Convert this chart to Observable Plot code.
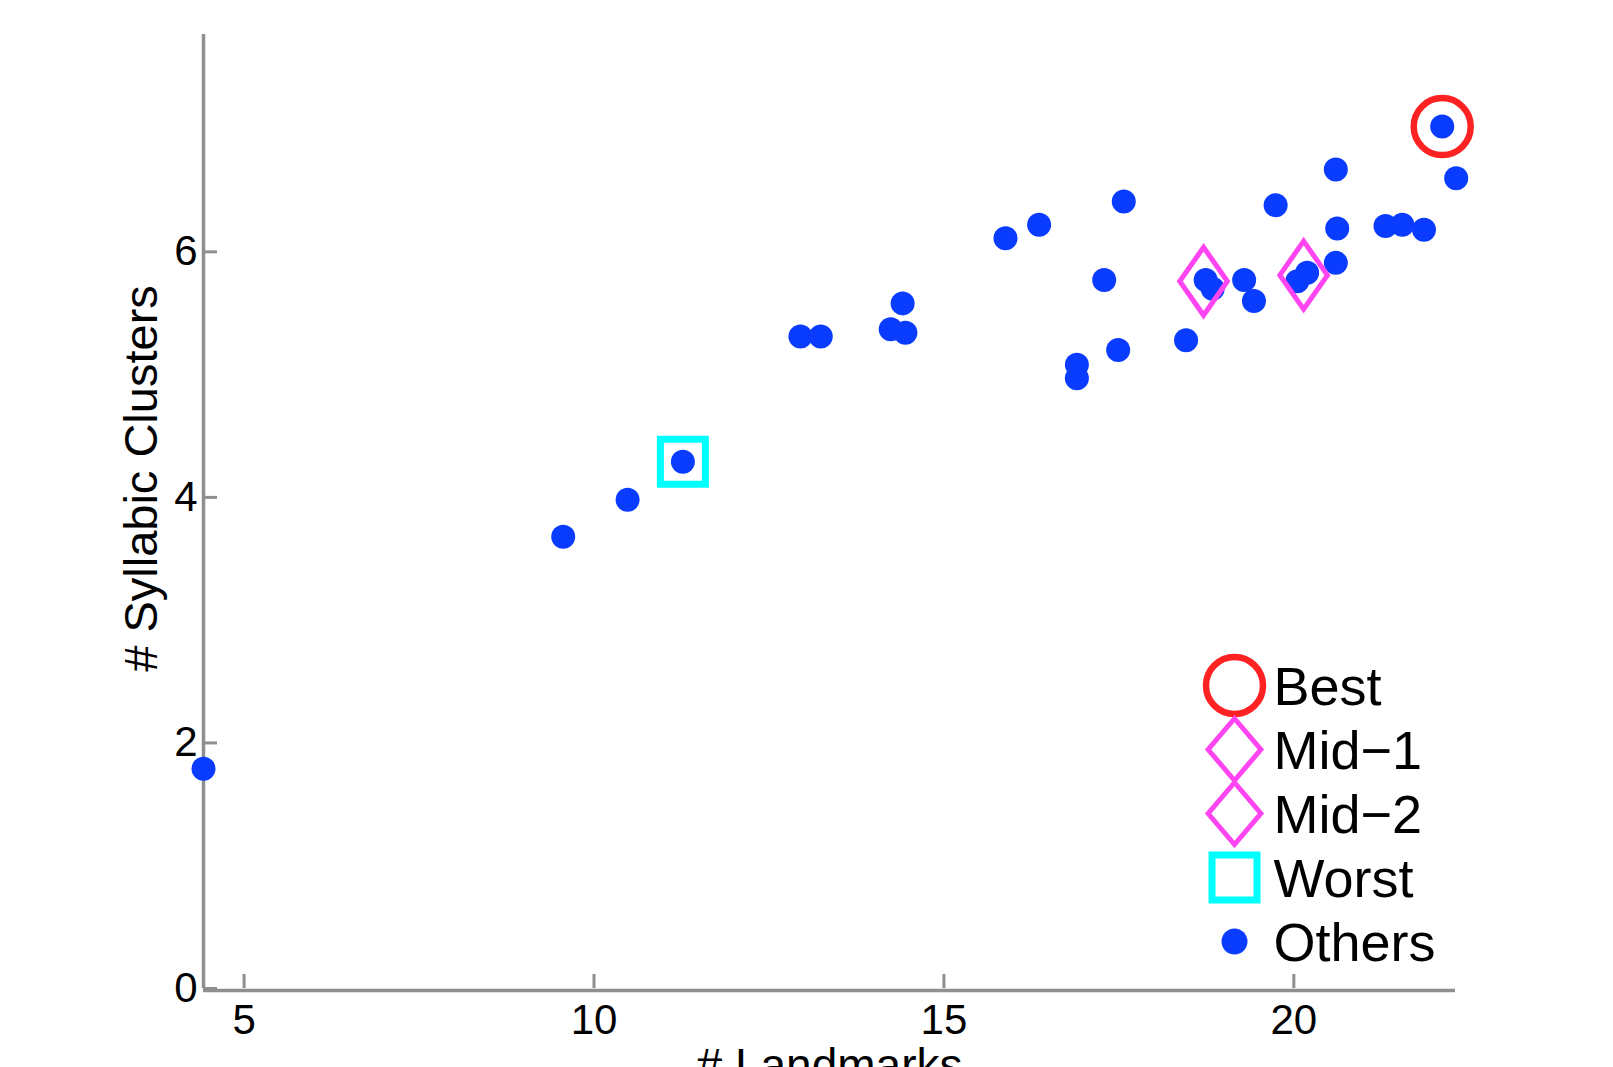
<!DOCTYPE html>
<html>
<head>
<meta charset="utf-8">
<script src="https://cdn.jsdelivr.net/npm/d3@7"></script>
<script src="https://cdn.jsdelivr.net/npm/@observablehq/plot@0.6"></script>
<style>
  html, body { margin: 0; padding: 0; background: #fff; }
  #wrap { position: relative; width: 1613px; height: 1067px; overflow: hidden; background: #fff; }
  #legend { position: absolute; left: 1190px; top: 640px; }
</style>
</head>
<body>
<div id="wrap"><div id="main"></div><div id="legend"></div></div>
<script>
// ---- data ----
const othersX = [4.42, 9.56, 10.48, 11.27, 12.95, 13.24, 14.24, 14.45, 14.41, 15.88, 16.36,
  16.90, 16.90, 17.29, 17.49, 17.57, 18.46, 18.74, 18.84, 19.29, 19.43, 19.74, 20.05, 20.19,
  20.60, 20.62, 20.60, 21.31, 21.55, 21.86, 22.12, 22.32];
const othersY = [1.79, 3.68, 3.98, 4.29, 5.31, 5.31, 5.37, 5.34, 5.58, 6.11, 6.22,
  5.08, 4.97, 5.77, 5.20, 6.41, 5.28, 5.77, 5.70, 5.77, 5.60, 6.38, 5.76, 5.83,
  6.67, 6.19, 5.91, 6.21, 6.22, 6.18, 7.02, 6.60];
const highlightNames = ["Best", "Mid\u22121", "Mid\u22122", "Worst"];
const highlightX = [22.12, 18.71, 20.14, 11.27];
const highlightY = [7.02, 5.76, 5.81, 4.29];
const legendLabels = ["Best", "Mid\u22121", "Mid\u22122", "Worst", "Others"];
const xTicks = [5, 10, 15, 20];
const yTicks = [0, 2, 4, 6];
const xDomain = [4.42, 22.31];
const yDomain = [0, 7.77];
const xLabel = "# Landmarks";
const yLabel = "# Syllabic Clusters";

// ---- styles ----
const font = "'Liberation Sans', Arial, Helvetica, sans-serif";
const axisColor = "#8f8f8f";
const diamond = { draw(ctx, size) { const r = Math.sqrt(size / Math.PI);
  ctx.moveTo(0, -r); ctx.lineTo(r * 0.7, 0); ctx.lineTo(0, r); ctx.lineTo(-r * 0.7, 0); ctx.closePath(); } };
const legendDiamond = { draw(ctx, size) { const r = Math.sqrt(size / Math.PI);
  ctx.moveTo(0, -r); ctx.lineTo(r * 0.85, 0); ctx.lineTo(0, r); ctx.lineTo(-r * 0.85, 0); ctx.closePath(); } };
const square = { draw(ctx, size) { const r = Math.sqrt(size / Math.PI);
  ctx.moveTo(-r, -r); ctx.lineTo(r, -r); ctx.lineTo(r, r); ctx.lineTo(-r, r); ctx.closePath(); } };
const magenta = { symbol: diamond, r: 34, stroke: "#ff44f2", strokeWidth: 5, fill: "none" };
const markStyle = {
  "Best":   { symbol: "circle", r: 28.5, stroke: "#ff2222", strokeWidth: 6.5, fill: "none" },
  "Mid\u22121": magenta,
  "Mid\u22122": magenta,
  "Worst":  { symbol: square, r: 22.5, stroke: "#00ffff", strokeWidth: 7, fill: "none" },
  "Others": { symbol: "circle", r: 12, fill: "#0a3cff", stroke: "none" }
};
const legendMagenta = { ...magenta, r: 31, symbol: legendDiamond };
const legendStyle = {
  ...markStyle,
  "Mid\u22121": legendMagenta,
  "Mid\u22122": legendMagenta,
  "Others": { ...markStyle["Others"], r: 13 }
};

const others = othersX.map((x, i) => ({ x, y: othersY[i] }));
const highlights = highlightNames.map((name, i) => ({ name, x: highlightX[i], y: highlightY[i] }));

const main = Plot.plot({
  width: 1613, height: 1067,
  marginLeft: 203, marginRight: 158, marginTop: 34, marginBottom: 79,
  style: { fontFamily: font, color: "#000", background: "#fff", overflow: "visible" },
  x: { domain: xDomain, label: null },
  y: { domain: yDomain, label: null },
  marks: [
    Plot.ruleX([xDomain[0]], { stroke: axisColor, strokeWidth: 3.5 }),
    Plot.ruleY([0], { stroke: axisColor, strokeWidth: 3.5, dy: 2 }),
    Plot.axisX({ ticks: xTicks, anchor: "bottom", tickSize: -14, fill: "none", stroke: axisColor, strokeWidth: 3, label: null }),
    Plot.axisX({ ticks: xTicks, anchor: "bottom", tickSize: 0, tickPadding: 16, fontSize: 42, fill: "#000", label: null }),
    Plot.axisY({ ticks: yTicks, anchor: "left", tickSize: -14, fill: "none", stroke: axisColor, strokeWidth: 3, label: null }),
    Plot.axisY({ ticks: yTicks, anchor: "left", tickSize: 0, tickPadding: 6, fontSize: 42, fill: "#000", label: null }),
    Plot.dot(others, { x: "x", y: "y", ...markStyle["Others"] }),
    ...highlightNames.map(n => Plot.dot(highlights.filter(d => d.name === n), { x: "x", y: "y", ...markStyle[n] })),
    Plot.text([yLabel], { text: d => d, frameAnchor: "left", rotate: -90, dx: -62, dy: -33, fontSize: 47, textAnchor: "middle", lineAnchor: "middle", fill: "#000" }),
    Plot.text([xLabel], { text: d => d, frameAnchor: "bottom", dy: 60, fontSize: 46, textAnchor: "middle", lineAnchor: "top", fill: "#000" })
  ]
});
document.getElementById("main").appendChild(main);

const legend = Plot.plot({
  width: 280, height: 340,
  marginLeft: 0, marginRight: 0, marginTop: 0, marginBottom: 0,
  style: { fontFamily: font, color: "#000", background: "transparent", overflow: "visible" },
  y: { type: "point", domain: legendLabels, range: [44, 302], padding: 0, axis: null },
  marks: [
    ...legendLabels.map(n => Plot.dot([n], { y: d => d, frameAnchor: "left", dx: 44, ...legendStyle[n] })),
    Plot.text(legendLabels, { y: d => d, text: d => d, frameAnchor: "left", dx: 83, dy: 2, textAnchor: "start", lineAnchor: "middle", fontSize: 54, fill: "#000" })
  ]
});
document.getElementById("legend").appendChild(legend);
</script>
</body>
</html>
